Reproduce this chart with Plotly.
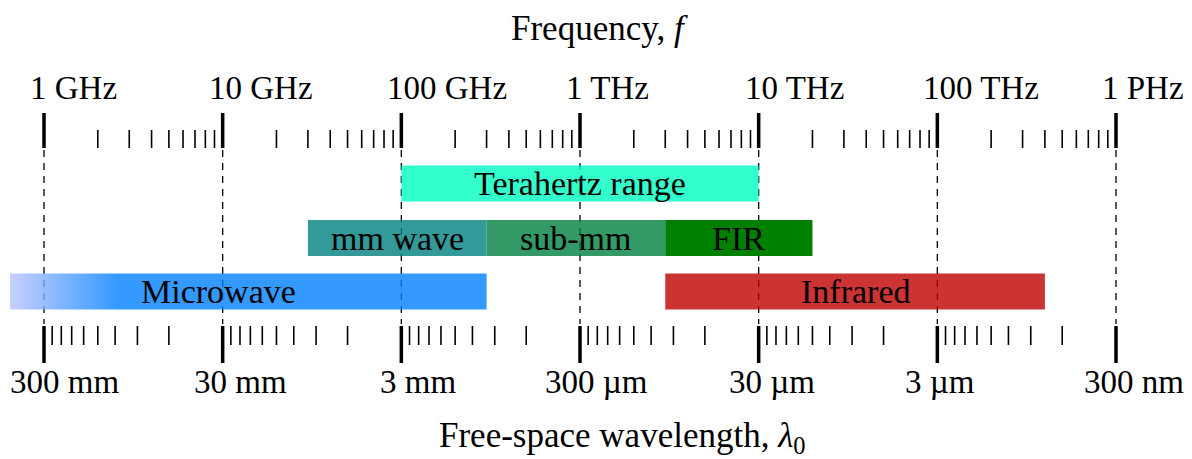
import numpy as np
import plotly.graph_objects as go

# ---------------- data ----------------
# frequency axis (GHz)
freq_major_ghz = [1, 10, 100, 1e3, 1e4, 1e5, 1e6]
freq_major_labels = ["1 GHz", "10 GHz", "100 GHz", "1 THz", "10 THz", "100 THz", "1 PHz"]
minor_multipliers = [2, 3, 4, 5, 6, 7, 8, 9]

# free-space wavelength axis (metres)
wl_major_m = [0.3, 0.03, 3e-3, 3e-4, 3e-5, 3e-6, 3e-7]
wl_major_labels = ["300 mm", "30 mm", "3 mm", "300 µm", "30 µm", "3 µm", "300 nm"]

# spectral bands (GHz)
band_names = ["Terahertz range", "mm wave", "sub-mm", "FIR", "Microwave", "Infrared"]
band_start_ghz = [100, 30, 300, 3000, 0.3, 3000]
band_stop_ghz = [10000, 300, 3000, 20000, 300, 400000]
band_row = [0, 1, 1, 1, 2, 2]

C_M_GHZ = 0.3  # speed of light in m·GHz

# ---------------- style ----------------
FONT = "Liberation Serif"
FS_TICK = 33
FS_BAND = 34
FS_TITLE = 35
row_y = [183.5, 238.0, 291.5]
bar_half = 18.0
band_fill = {
    "Terahertz range": "rgba(0,255,191,0.8)",
    "mm wave": "rgba(0,128,128,0.8)",
    "sub-mm": "rgba(0,128,64,0.8)",
    "FIR": "rgb(0,128,0)",
    "Microwave": "rgba(0,128,255,0.8)",
    "Infrared": "rgba(191,0,0,0.8)",
}
px_per_decade = (1116 - 44) / 6.0
x_lo = -34 / px_per_decade
x_hi = (1192 - 44) / px_per_decade


def lg(v):
    return np.log10(np.asarray(v, dtype=float))


def segments(xs, y0, y1):
    X, Y = [], []
    for x in xs:
        X += [x, x, None]
        Y += [y0, y1, None]
    return X, Y


fig = go.Figure()

f_major = lg(freq_major_ghz)
f_minor = lg([m * f for f in freq_major_ghz[:-1] for m in minor_multipliers])
wl_major_f = lg([C_M_GHZ / w for w in wl_major_m])
wl_minor_f = lg([C_M_GHZ / (m * w) for w in wl_major_m[1:] for m in minor_multipliers])

# dashed guides at each decade
X, Y = segments(f_major, 150, 324)
fig.add_trace(go.Scatter(x=X, y=Y, mode="lines", hoverinfo="skip",
                         line=dict(color="black", width=1.3, dash="7px,6px")))

# bands
for name, a, b, r in zip(band_names, band_start_ghz, band_stop_ghz, band_row):
    xa, xb = float(lg(a)), float(lg(b))
    yc = row_y[r]
    kw = dict(fillcolor=band_fill[name])
    if name == "Microwave":
        kw = dict(fillgradient=dict(
            type="horizontal", start=x_lo, stop=float(lg(2.6)),
            colorscale=[[0, "rgba(186,196,255,0.8)"], [1, band_fill[name]]]))
    fig.add_trace(go.Scatter(
        x=[xa, xb, xb, xa, xa],
        y=[yc - bar_half, yc - bar_half, yc + bar_half, yc + bar_half, yc - bar_half],
        mode="lines", fill="toself", line=dict(width=0), hoverinfo="skip", **kw))
    fig.add_annotation(x=(xa + xb) / 2, y=yc, text=name, showarrow=False,
                       xanchor="center", yanchor="middle",
                       font=dict(family=FONT, size=FS_BAND, color="black"))

# frequency ticks (top)
for xs, y0, w in [(f_major, 113, 3.5), (f_minor, 130, 1.6)]:
    X, Y = segments(xs, y0, 148)
    fig.add_trace(go.Scatter(x=X, y=Y, mode="lines", hoverinfo="skip",
                             line=dict(color="black", width=w)))

# wavelength ticks (bottom)
for xs, y1, w in [(wl_major_f, 363, 3.5), (wl_minor_f, 345, 1.6)]:
    X, Y = segments(xs, 326, y1)
    fig.add_trace(go.Scatter(x=X, y=Y, mode="lines", hoverinfo="skip",
                             line=dict(color="black", width=w)))

# tick labels
for x, t in zip(f_major, freq_major_labels):
    fig.add_annotation(x=x, y=88, text=t, showarrow=False, xanchor="left",
                       yanchor="middle", xshift=-16,
                       font=dict(family=FONT, size=FS_TICK, color="black"))
wl_label_shift = [20, 18, 17, 16, 13, 3, 18]
for x, t, s in zip(wl_major_f, wl_major_labels, wl_label_shift):
    fig.add_annotation(x=x, y=381.5, text=t, showarrow=False, xanchor="center",
                       yanchor="middle", xshift=s,
                       font=dict(family=FONT, size=FS_TICK, color="black"))

# axis titles
fig.add_annotation(x=0.4985, xref="paper", y=28.5, text="Frequency, <i>f</i>",
                   showarrow=False, xanchor="center", yanchor="middle",
                   font=dict(family=FONT, size=FS_TITLE, color="black"))
fig.add_annotation(x=0.518, xref="paper", y=437, text="Free-space wavelength, <i>λ</i><sub>0</sub>",
                   showarrow=False, xanchor="center", yanchor="middle",
                   font=dict(family=FONT, size=FS_TITLE, color="black"))

fig.update_layout(
    width=1192, height=459,
    margin=dict(l=10, r=0, t=0, b=0),
    showlegend=False,
    plot_bgcolor="white", paper_bgcolor="white",
    xaxis=dict(range=[x_lo, x_hi], visible=False, fixedrange=True),
    yaxis=dict(range=[459, 0], visible=False, fixedrange=True),
)

fig.write_html("out.html")
